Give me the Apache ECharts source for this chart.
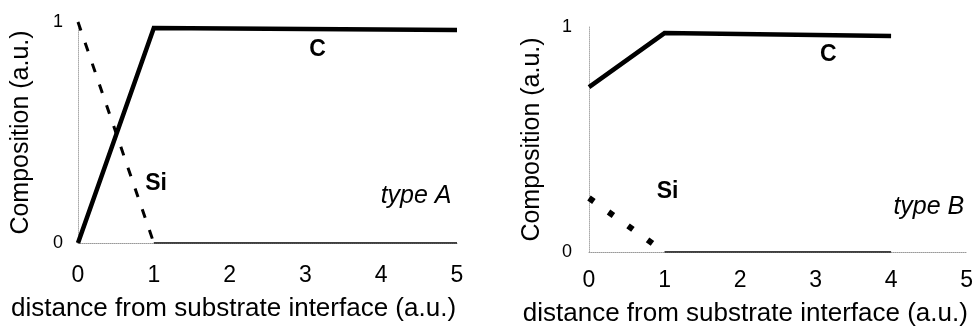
<!DOCTYPE html>
<html>
<head>
<meta charset="utf-8">
<script src="https://cdn.jsdelivr.net/npm/echarts@6/dist/echarts.min.js"></script>
<style>
  html, body { margin: 0; padding: 0; background: #fff; }
  #chart { width: 976px; height: 334px; }
</style>
</head>
<body>
<div id="chart"></div>
<script>
// Composition profiles versus distance from the substrate interface
const xTicks = [0, 1, 2, 3, 4, 5];
const yTicks = [0, 1];

// type A: carbon ramps up over the first unit, silicon falls to zero
const carbonA = [[0, 0], [1, 0.973], [5, 0.964]];
const siliconA = [[0, 1], [1, 0]];
const siliconTailA = [[1, 0], [5, 0]];

// type B: carbon starts high, silicon starts low
const carbonB = [[0, 0.733], [1, 0.973], [4, 0.96]];
const siliconB = [[0, 0.24], [1, 0]];
const siliconTailB = [[1, 0], [4, 0]];

// annotation anchors in data units: [x, y, text]
const notesA = [[3.16, 0.873, 'C'], [1.03, 0.27, 'Si']];
const notesB = [[3.17, 0.876, 'C'], [1.04, 0.27, 'Si']];
const typeA = [[4.46, 0.213, 'type A']];
const typeB = [[4.5, 0.2, 'type B']];

const FONT = '"Liberation Sans", Arial, sans-serif';

function xAxis(gridIndex, margin, nameGap, shift) {
  return {
    gridIndex, type: 'value', min: 0, max: 5, interval: 1,
    axisLine: { show: true, lineStyle: { color: '#999', type: 'dotted', width: 1 } },
    axisTick: { show: false },
    splitLine: { show: false },
    axisLabel: { color: '#000', fontSize: 23, fontFamily: FONT, margin,
      formatter: v => xTicks.includes(v) ? String(v) : '' },
    name: 'distance from substrate interface (a.u.)',
    nameLocation: 'middle', nameGap,
    nameTextStyle: { color: '#000', fontSize: 26, fontFamily: FONT, padding: [0, shift, 0, 0] }
  };
}

function yAxis(gridIndex, margin) {
  return {
    gridIndex, type: 'value', min: 0, max: 1, interval: 1,
    axisLine: { show: true, lineStyle: { color: '#aaa', type: 'dotted', width: 1 } },
    axisTick: { show: false },
    splitLine: { show: false },
    axisLabel: { color: '#000', fontSize: 18, fontFamily: FONT, margin,
      formatter: v => yTicks.includes(v) ? String(v) : '' },
    name: 'Composition (a.u.)',
    nameLocation: 'middle', nameGap: 44, nameRotate: 90,
    nameTextStyle: { color: '#000', fontSize: 25, fontFamily: FONT }
  };
}

function line(idx, data, width, type) {
  return {
    type: 'line', xAxisIndex: idx, yAxisIndex: idx, data,
    symbol: 'none', silent: true, animation: false,
    lineStyle: { color: '#000', width, type: type || 'solid', cap: 'butt', join: 'miter' }
  };
}

function notes(idx, data, style) {
  return {
    type: 'scatter', xAxisIndex: idx, yAxisIndex: idx, data,
    symbolSize: 0, silent: true, animation: false,
    itemStyle: { color: '#000', opacity: 1 },
    label: Object.assign({ show: true, position: 'inside', color: '#000', fontFamily: FONT,
      textBorderWidth: 0, opacity: 1, formatter: p => p.data[2] }, style)
  };
}

const chart = echarts.init(document.getElementById('chart'), null, { renderer: 'canvas' });
chart.setOption({
  backgroundColor: '#fff',
  animation: false,
  grid: [
    { left: 78, right: 519, top: 22, bottom: 91 },
    { left: 589, right: 7, top: 27, bottom: 82 }
  ],
  xAxis: [xAxis(0, 21, 53, 68), xAxis(1, 17, 49, 65)],
  yAxis: [yAxis(0, 15), yAxis(1, 17)],
  series: [
    line(0, siliconTailA, 1.5),
    line(0, siliconA, 3, [9, 13]),
    line(0, carbonA, 4.5),
    line(1, siliconTailB, 1.5),
    line(1, siliconB, 6, [6, 18]),
    line(1, carbonB, 4.5),
    notes(0, notesA, { fontSize: 23, fontWeight: 'bold' }),
    notes(1, notesB, { fontSize: 23, fontWeight: 'bold' }),
    notes(0, typeA, { fontSize: 25, fontStyle: 'italic' }),
    notes(1, typeB, { fontSize: 25, fontStyle: 'italic' })
  ]
});
</script>
</body>
</html>
